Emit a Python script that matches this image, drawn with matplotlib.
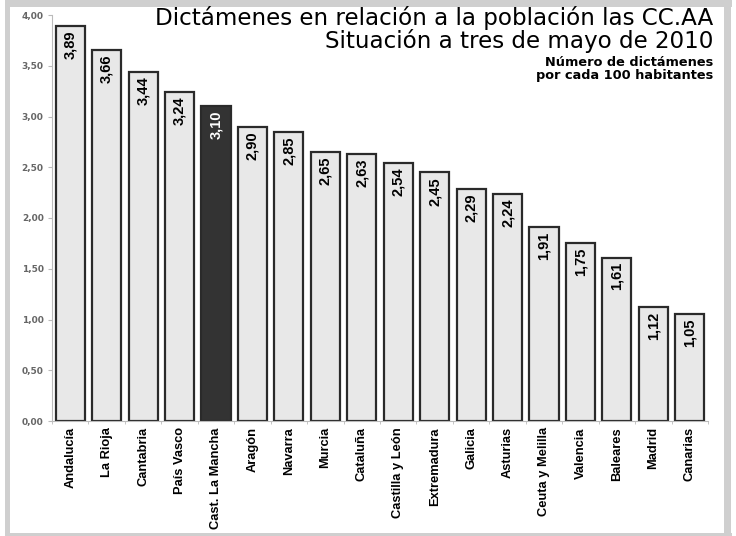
import matplotlib
matplotlib.use("Agg")
from matplotlib import pyplot as plt
from matplotlib.patches import Rectangle
import numpy as np

regions = ["Andalucía", "La Rioja", "Cantabria", "País Vasco", "Cast. La Mancha",
           "Aragón", "Navarra", "Murcia", "Cataluña", "Castilla y León",
           "Extremadura", "Galicia", "Asturias", "Ceuta y Melilla", "Valencia",
           "Baleares", "Madrid", "Canarias"]
values = [3.89, 3.66, 3.44, 3.24, 3.10, 2.90, 2.85, 2.65, 2.63, 2.54,
          2.45, 2.29, 2.24, 1.91, 1.75, 1.61, 1.12, 1.05]
highlight = "Cast. La Mancha"
yticks = [0.0, 0.5, 1.0, 1.5, 2.0, 2.5, 3.0, 3.5, 4.0]

plt.rcParams['font.family'] = ['DejaVu Sans']
label_font = "Liberation Sans"

fig = plt.figure(figsize=(7.36, 5.36), dpi=100)
W, H = 736, 536
grey = "#cfcfcf"

# grey frame around the picture (top, left, right, bottom)
for (x0, y0, w, h) in [(5, 0, 727, 7), (5, 0, 5, 536), (724, 0, 7, 536), (5, 533, 727, 3)]:
    fig.patches.append(Rectangle((x0 / W, 1 - (y0 + h) / H), w / W, h / H,
                                 transform=fig.transFigure, color=grey, lw=0))

ax = fig.add_axes([52 / W, 1 - 421 / H, (708 - 52) / W, (421 - 15) / H])

x = np.arange(len(regions))
colors = ["#333333" if r == highlight else "#e8e8e8" for r in regions]
ax.bar(x, values, width=0.8, color=colors, edgecolor="#2a2a2a", linewidth=1.6)

for xi, v, r in zip(x, values, regions):
    txtcol = "white" if r == highlight else "black"
    ax.text(xi, v - 0.045, ("%.2f" % v).replace(".", ","), rotation=90,
            ha="center", va="top", fontsize=10.5, fontweight="bold",
            color=txtcol, family=label_font)

ax.set_xlim(-0.5, len(regions) - 0.5)
ax.set_ylim(0, 4.0)
ax.set_yticks(yticks)
ax.set_yticklabels([("%.2f" % t).replace(".", ",") for t in yticks],
                   fontsize=6.5, fontweight="bold", color="#666666")
ax.set_xticks(x)
ax.set_xticklabels(regions, rotation=90, fontsize=9.3, fontweight="bold", family=label_font)
ax.set_xticks(np.arange(len(regions) + 1) - 0.5, minor=True)
ax.tick_params(axis="x", which="major", length=0, pad=4.5)
ax.tick_params(axis="x", which="minor", length=2, color="#bbbbbb")
ax.tick_params(axis="y", length=3, color="#bbbbbb", pad=3)

for s in ["top", "right"]:
    ax.spines[s].set_visible(False)
ax.spines["left"].set_color("#bbbbbb")
ax.spines["bottom"].set_color("#bbbbbb")

fig.text(713 / W, 1 - 25 / H, "Dictámenes en relación a la población las CC.AA",
         ha="right", va="baseline", fontsize=16.6)
fig.text(713 / W, 1 - 48 / H, "Situación a tres de mayo de 2010",
         ha="right", va="baseline", fontsize=16.6)
fig.text(713 / W, 1 - 66 / H, "Número de dictámenes",
         ha="right", va="baseline", fontsize=9.3, fontweight="bold")
fig.text(713 / W, 1 - 79 / H, "por cada 100 habitantes",
         ha="right", va="baseline", fontsize=9.3, fontweight="bold")

fig.savefig("out.png", dpi=100)
